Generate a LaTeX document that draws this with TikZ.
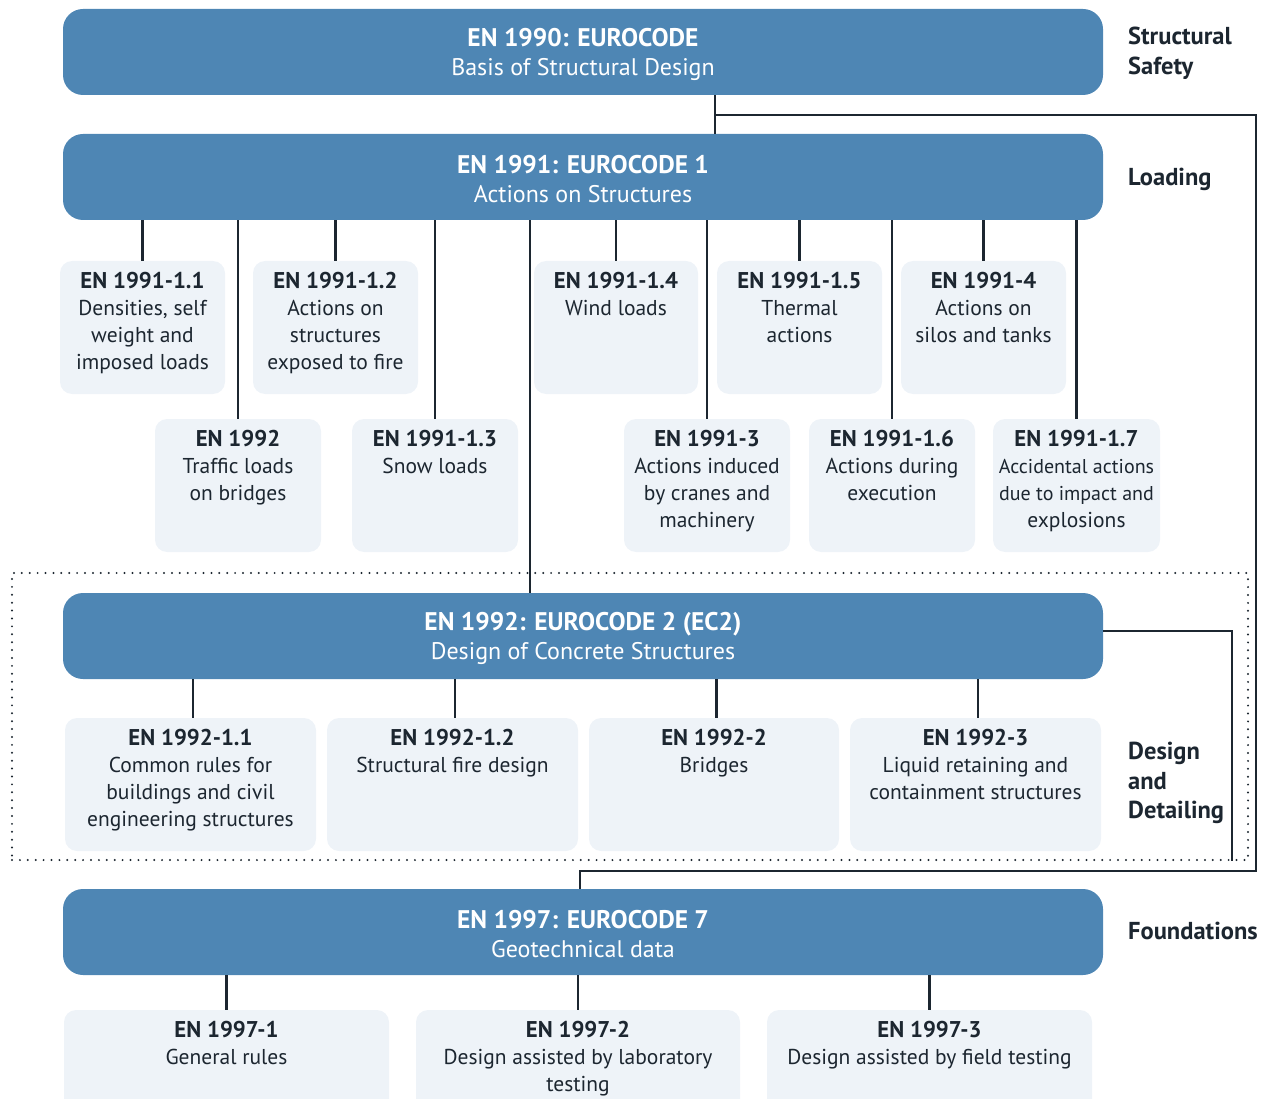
\documentclass[tikz,border=0pt]{standalone}
\usepackage{fontspec}
\setmainfont{PT Sans}
\definecolor{mainblue}{HTML}{4E86B4}
\definecolor{lightbox}{HTML}{EEF3F8}
\definecolor{ink}{HTML}{1C2630}
\newcommand{\mtitle}[1]{{\fontsize{25.5}{29}\selectfont\bfseries #1}}
\newcommand{\stitle}[1]{{\fontsize{22.8}{27}\selectfont\bfseries #1}}
\tikzset{
  mainbox/.style={fill=mainblue, rounded corners=20pt, minimum width=1040pt, minimum height=86pt, inner sep=0pt},
  maintext/.style={text=white, align=center, inner sep=0pt, font=\fontsize{24}{29}\selectfont},
  subbox/.style={fill=lightbox, rounded corners=12pt, inner sep=0pt, minimum height=133pt},
  subtext/.style={text=ink, align=center, anchor=north, inner sep=0pt, font=\fontsize{21.5}{27}\selectfont},
  conn/.style={draw=ink, line width=2.5pt},
  sidelabel/.style={text=ink, anchor=north west, align=left, inner sep=0pt, font=\bfseries\fontsize{24.5}{29.5}\selectfont},
  dotbox/.style={draw=ink, line width=2.2pt, dash pattern=on 0pt off 7.9pt, line cap=round, inner sep=0pt}
}
\begin{document}
\begin{tikzpicture}[x=1pt,y=-1pt]
\useasboundingbox (0,0) rectangle (1272,1099);
\clip (0,0) rectangle (1272,1099);

% dotted region
\node[dotbox, minimum width=1236pt, minimum height=287pt] (dots) at (630,716.5) {};

% main boxes
\node[mainbox] (n1990) at (583,52) {};
\node[mainbox] (n1991) at (583,177) {};
\node[mainbox] (n1992) at (583,636) {};
\node[mainbox] (n1997) at (583,932) {};
\node[maintext] (m1990) at ([yshift=-2pt]n1990.center) {\mtitle{EN 1990: EUROCODE}\\Basis of Structural Design};
\node[maintext] (m1991) at ([yshift=-2pt]n1991.center) {\mtitle{EN 1991: EUROCODE 1}\\Actions on Structures};
\node[maintext] (m1992) at ([yshift=-2pt]n1992.center) {\mtitle{EN 1992: EUROCODE 2 (EC2)}\\Design of Concrete Structures};
\node[maintext] (m1997) at ([yshift=-2pt]n1997.center) {\mtitle{EN 1997: EUROCODE 7}\\Geotechnical data};

% side labels
\node[sidelabel] (lsafe) at (1128,27) {Structural\\Safety};
\node[sidelabel] (lload) at (1128,168) {Loading};
\node[sidelabel] (ldes) at (1128,742) {Design\\and\\Detailing};
\node[sidelabel] (lfound) at (1128,922) {Foundations};

% EN 1991 row 1
\node[subbox, minimum width=165pt] (a1) at (142.5,327.5) {};
\node[subbox, minimum width=165pt] (a2) at (335.5,327.5) {};
\node[subbox, minimum width=164pt] (a3) at (616,327.5) {};
\node[subbox, minimum width=165pt] (a4) at (799.5,327.5) {};
\node[subbox, minimum width=165pt] (a5) at (983.5,327.5) {};
% EN 1991 row 2
\node[subbox, minimum width=166pt] (b1) at (238,485.5) {};
\node[subbox, minimum width=166pt] (b2) at (435,485.5) {};
\node[subbox, minimum width=166pt] (b3) at (707,485.5) {};
\node[subbox, minimum width=166pt] (b4) at (892,485.5) {};
\node[subbox, minimum width=167pt] (b5) at (1076.5,485.5) {};
% EN 1992 subs
\node[subbox, minimum width=251pt] (c1) at (190.5,784.5) {};
\node[subbox, minimum width=251pt] (c2) at (452.5,784.5) {};
\node[subbox, minimum width=250pt] (c3) at (714,784.5) {};
\node[subbox, minimum width=251pt] (c4) at (975.5,784.5) {};
% EN 1997 subs
\node[subbox, minimum width=325pt] (d1) at (226.5,1076.5) {};
\node[subbox, minimum width=324pt] (d2) at (578,1076.5) {};
\node[subbox, minimum width=325pt] (d3) at (929.5,1076.5) {};

% texts
\node[subtext] (ta1) at ([yshift=-11pt]a1.north) {\stitle{EN 1991-1.1}\\Densities, self\\weight and\\imposed loads};
\node[subtext] (ta2) at ([yshift=-11pt]a2.north) {\stitle{EN 1991-1.2}\\Actions on\\structures\\exposed to fire};
\node[subtext] (ta3) at ([yshift=-11pt]a3.north) {\stitle{EN 1991-1.4}\\Wind loads};
\node[subtext] (ta4) at ([yshift=-11pt]a4.north) {\stitle{EN 1991-1.5}\\Thermal\\actions};
\node[subtext] (ta5) at ([yshift=-11pt]a5.north) {\stitle{EN 1991-4}\\Actions on\\silos and tanks};
\node[subtext] (tb1) at ([yshift=-11pt]b1.north) {\stitle{EN 1992}\\Traffic loads\\on bridges};
\node[subtext] (tb2) at ([yshift=-11pt]b2.north) {\stitle{EN 1991-1.3}\\Snow loads};
\node[subtext] (tb3) at ([yshift=-11pt]b3.north) {\stitle{EN 1991-3}\\Actions induced\\by cranes and\\machinery};
\node[subtext] (tb4) at ([yshift=-11pt]b4.north) {\stitle{EN 1991-1.6}\\Actions during\\execution};
\node[subtext] (tb5) at ([yshift=-11pt]b5.north) {\stitle{EN 1991-1.7}\\{\fontsize{20}{27}\selectfont Accidental actions}\\{\fontsize{20}{27}\selectfont due to impact and}\\explosions};
\node[subtext] (tc1) at ([yshift=-11pt]c1.north) {\stitle{EN 1992-1.1}\\Common rules for\\buildings and civil\\engineering structures};
\node[subtext] (tc2) at ([yshift=-11pt]c2.north) {\stitle{EN 1992-1.2}\\Structural fire design};
\node[subtext] (tc3) at ([yshift=-11pt]c3.north) {\stitle{EN 1992-2}\\Bridges};
\node[subtext] (tc4) at ([yshift=-11pt]c4.north) {\stitle{EN 1992-3}\\Liquid retaining and\\containment structures};
\node[subtext] (td1) at ([yshift=-11pt]d1.north) {\stitle{EN 1997-1}\\General rules};
\node[subtext] (td2) at ([yshift=-11pt]d2.north) {\stitle{EN 1997-2}\\Design assisted by laboratory\\testing};
\node[subtext] (td3) at ([yshift=-11pt]d3.north) {\stitle{EN 1997-3}\\Design assisted by field testing};

% connectors EN 1991
\foreach \n in {a1,a2,a3,a4,a5,b1,b2,b3,b4,b5}{
  \draw[conn] (\n.north |- n1991.south) -- (\n.north);
}
\coordinate (k1) at (530,400);
\draw[conn] (k1 |- n1991.south) -- (k1 |- n1992.north);
% connectors EN 1992
\foreach \n in {c1,c2,c3,c4}{
  \draw[conn] ([xshift=2.5pt]\n.north |- n1992.south) -- ([xshift=2.5pt]\n.north);
}
% connectors EN 1997
\foreach \n in {d1,d2,d3}{
  \draw[conn] (\n.north |- n1997.south) -- (\n.north);
}
% EN 1990 links
\coordinate (j1) at (715,115);
\coordinate (j2) at (1256,115);
\coordinate (j3) at (1256,871);
\coordinate (j4) at (580,871);
\draw[conn] (j1 |- n1990.south) -- (j1 |- n1991.north);
\draw[conn] (j1) -- (j2) -- (j3) -- (j4) -- (j4 |- n1997.north);
% EN 1992 right link
\coordinate (e1) at (1232,631);
\draw[conn] (e1 -| n1992.east) -- (e1) -- (e1 |- dots.south);
\end{tikzpicture}
\end{document}
